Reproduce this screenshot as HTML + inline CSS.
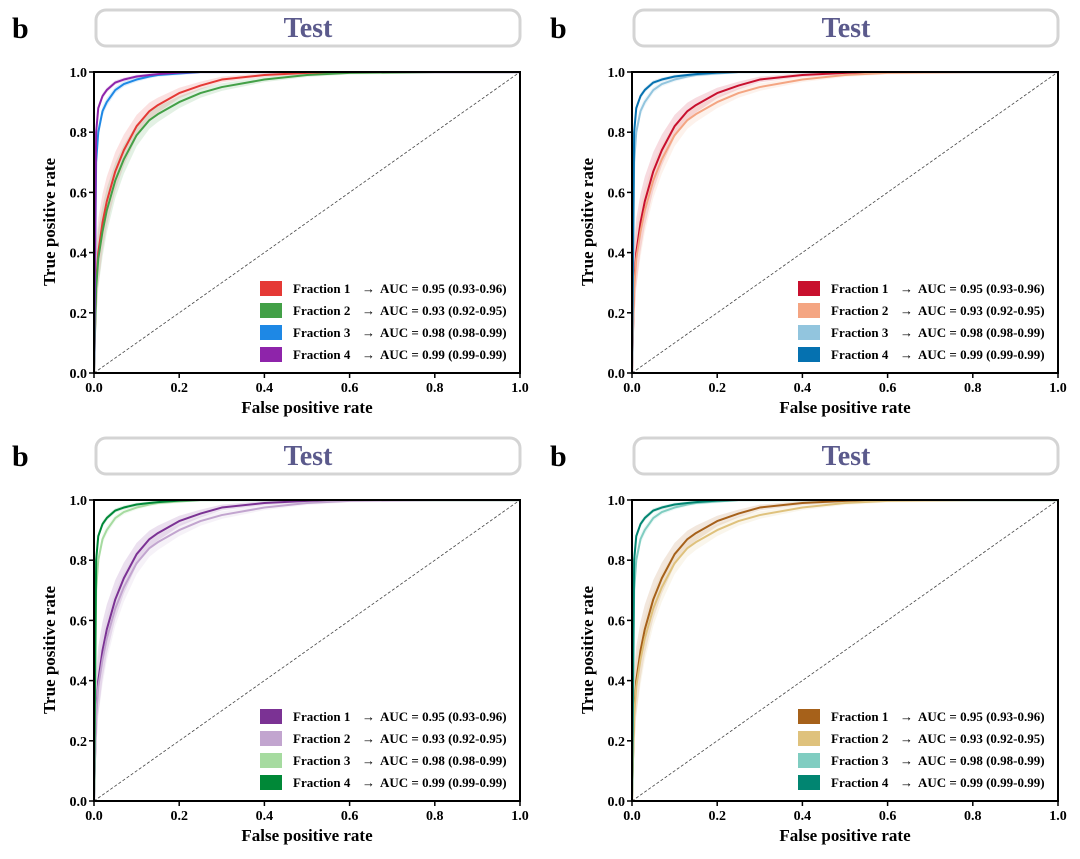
<!DOCTYPE html>
<html><head><meta charset="utf-8"><style>
body{margin:0;background:#fff;}
svg{display:block;font-family:"Liberation Serif",serif;}
</style></head><body>
<svg id="c" width="1080" height="859"></svg>
<script>
const fprGrid=[0,0.005,0.01,0.02,0.03,0.05,0.07,0.1,0.13,0.15,0.2,0.25,0.3,0.4,0.5,0.6,0.8,1];
const tpr1=[0,0.3,0.4,0.5,0.57,0.67,0.74,0.82,0.87,0.89,0.93,0.955,0.975,0.99,0.997,1,1,1];
const tpr2=[0,0.28,0.38,0.47,0.54,0.64,0.71,0.79,0.84,0.86,0.9,0.93,0.95,0.975,0.99,0.997,1,1];
const tpr3=[0,0.7,0.8,0.87,0.9,0.94,0.96,0.975,0.985,0.99,0.995,1,1,1,1,1,1,1];
const tpr4=[0,0.8,0.88,0.92,0.94,0.965,0.975,0.985,0.99,0.993,0.998,1,1,1,1,1,1,1];
const bandHalf=[0.06,0.05,0.03,0.02];
const seriesNames=["Fraction 1","Fraction 2","Fraction 3","Fraction 4"];
const aucLabels=["AUC = 0.95 (0.93-0.96)","AUC = 0.93 (0.92-0.95)","AUC = 0.98 (0.98-0.99)","AUC = 0.99 (0.99-0.99)"];
const ticks=[0,0.2,0.4,0.6,0.8,1.0];
const palettes=[["#e53935","#43a047","#1e88e5","#8e24aa"],["#c8102e","#f4a582","#92c5de","#0571b0"],["#7b3294","#c2a5cf","#a6dba0","#008837"],["#a6611a","#dfc27d","#80cdc1","#018571"]];
const allTpr=[tpr1,tpr2,tpr3,tpr4];
const NS="http://www.w3.org/2000/svg";
const svg=document.getElementById('c');
function mk(t,a,p){const e=document.createElementNS(NS,t);for(const k in a)e.setAttribute(k,a[k]);(p||svg).appendChild(e);return e;}
const offs=[[0,0],[538,0],[0,428],[538,428]];
offs.forEach((o,pi)=>{
 const g=mk('g',{transform:`translate(${o[0]},${o[1]})`});
 
 
 const X0=94,X1=520,Y0=373,Y1=72;
 const sx=v=>X0+v*(X1-X0), sy=v=>Y0-v*(Y0-Y1);
 let t=mk('text',{x:12,y:38,'font-size':30,'font-weight':'bold'},g);t.textContent='b';
 
 let r=mk('rect',{x:96,y:10,width:424,height:36,rx:10,fill:'#fff',stroke:'#d4d4d4','stroke-width':3},g);
 
 t=mk('text',{x:308,y:37,'font-size':28,'font-weight':'bold',fill:'#5b5a8c','text-anchor':'middle'},g);t.textContent='Test';
 
 let d=mk('line',{x1:sx(0),y1:sy(0),x2:sx(1),y2:sy(1),stroke:'#444','stroke-width':0.8,'stroke-dasharray':'3,2'},g);
 
 const pal=palettes[pi];
 allTpr.forEach((tp,si)=>{
  const up=fprGrid.map((f,i)=>sx(f)+','+sy(Math.min(1,tp[i]+(i?bandHalf[si]*(1-tp[i])*3+0.005:0)))).join(' ');
  const lo=fprGrid.map((f,i)=>sx(f)+','+sy(Math.max(0,tp[i]-(i?bandHalf[si]*(1-tp[i])*3+0.005:0)))).reverse().join(' ');
  const b=mk('polygon',{points:up+' '+lo,fill:pal[si],opacity:0.15},g);
  
 });
 allTpr.forEach((tp,si)=>{
  const l=mk('polyline',{points:fprGrid.map((f,i)=>sx(f)+','+sy(tp[i])).join(' '),fill:'none',stroke:pal[si],'stroke-width':2,'stroke-linejoin':'round'},g);
  
 });
 const fr=mk('rect',{x:X0,y:Y1,width:X1-X0,height:Y0-Y1,fill:'none',stroke:'#000','stroke-width':2},g);
 
 ticks.forEach(v=>{
  mk('line',{x1:sx(v),y1:Y0,x2:sx(v),y2:Y0+5,stroke:'#000','stroke-width':1.5},g);
  let tx=mk('text',{x:sx(v),y:Y0+19,'font-size':14,'font-weight':'bold','text-anchor':'middle'},g);tx.textContent=v.toFixed(1);
  
  mk('line',{x1:X0-5,y1:sy(v),x2:X0,y2:sy(v),stroke:'#000','stroke-width':1.5},g);
  let ty=mk('text',{x:X0-7,y:sy(v)+5,'font-size':14,'font-weight':'bold','text-anchor':'end'},g);ty.textContent=v.toFixed(1);
  
 });
 t=mk('text',{x:307,y:413,'font-size':17,'font-weight':'bold','text-anchor':'middle'},g);t.textContent='False positive rate';
 
 t=mk('text',{x:0,y:0,'font-size':17,'font-weight':'bold','text-anchor':'middle',transform:'translate(55,222) rotate(-90)'},g);t.textContent='True positive rate';
 
 seriesNames.forEach((n,si)=>{
  const y=288+si*22;
  const s=mk('rect',{x:260,y:y-7,width:22,height:15,fill:pal[si]},g);
  
  const lt=mk('text',{x:293,y:y+5,'font-size':13,'font-weight':'bold'},g);
  
  const a=mk('tspan',{x:293},lt);a.textContent=n;
  const b=mk('tspan',{x:362},lt);b.textContent='\u2192';
  const c=mk('tspan',{x:380},lt);c.textContent=aucLabels[si];
 });
});
</script>
</body></html>
